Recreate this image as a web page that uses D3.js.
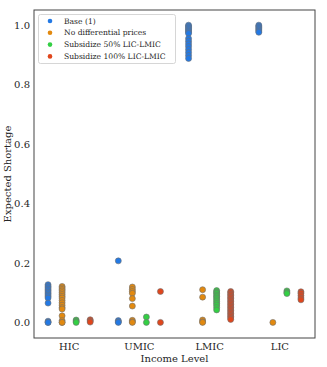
<!DOCTYPE html>
<html>
<head>
<meta charset="utf-8">
<script src="https://cdn.jsdelivr.net/npm/d3@7"></script>
<style>
  body { margin: 0; background: #fff; }
  text { font-family: "DejaVu Serif", serif; fill: #262626; }
</style>
</head>
<body>
<svg id="chart" width="327" height="367"></svg>
<script>
const categories = ["HIC", "UMIC", "LMIC", "LIC"];
const seriesNames = ["Base (1)", "No differential prices", "Subsidize 50% LIC-LMIC", "Subsidize 100% LIC-LMIC"];
const seriesColors = ["#2379e4", "#e2890f", "#33cf44", "#e0461c"];
const yTicks = [0.0, 0.2, 0.4, 0.6, 0.8, 1.0];

// values per category, HIC / UMIC / LMIC / LIC
const baseVals = [
  [0.127, 0.122, 0.117, 0.112, 0.107, 0.102, 0.097, 0.092, 0.087, 0.082, 0.065, 0.004, 0.0, 0.0],
  [0.207, 0.006, 0.002, 0.0],
  [1.0, 0.996, 0.992, 0.988, 0.984, 0.98, 0.976, 0.972, 0.955, 0.946, 0.937, 0.928, 0.918, 0.908, 0.898, 0.888],
  [1.0, 0.996, 0.992, 0.988, 0.984, 0.98, 0.976]
];
const noDiffVals = [
  [0.121, 0.116, 0.111, 0.106, 0.1, 0.094, 0.088, 0.082, 0.074, 0.066, 0.058, 0.05, 0.045, 0.022, 0.006, 0.0, 0.0],
  [0.119, 0.111, 0.104, 0.098, 0.08, 0.055, 0.007, 0.002, 0.0],
  [0.11, 0.085, 0.008, 0.002, 0.0],
  [0.0]
];
const sub50Vals = [
  [0.008, 0.004, 0.0],
  [0.018, 0.0],
  [0.107, 0.102, 0.098, 0.092, 0.087, 0.082, 0.076, 0.07, 0.064, 0.058, 0.05, 0.042],
  [0.106, 0.101, 0.097]
];
const sub100Vals = [
  [0.009, 0.005, 0.001],
  [0.104, 0.0],
  [0.104, 0.1, 0.095, 0.09, 0.085, 0.08, 0.075, 0.07, 0.065, 0.06, 0.055, 0.05, 0.045, 0.04, 0.035, 0.03, 0.025, 0.02, 0.015, 0.01],
  [0.103, 0.098, 0.09, 0.082, 0.076]
];
const allSeries = [baseVals, noDiffVals, sub50Vals, sub100Vals];

let svg = d3.select("#chart");
const mLeft = 34, mRight = 315, mTop = 10, mBottom = 338;

let x = d3.scaleBand().domain(categories).range([mLeft, mRight]);
let bw = x.bandwidth();
let xHue = d3.scaleBand().domain(seriesNames).range([0.1 * bw, 0.9 * bw]);
let y = d3.scaleLinear().domain([-0.0525, 1.051]).range([mBottom, mTop]);

// points
allSeries.forEach(function(vals, s) {
  let name = seriesNames[s];
  categories.forEach(function(c, ci) {
    let cx = x(c) + xHue(name) + xHue.bandwidth() / 2;
    svg.append("g").selectAll("circle")
      .data(vals[ci])
      .enter().append("circle")
      .attr("cx", cx)
      .attr("cy", d => y(d))
      .attr("r", 3)
      .attr("fill", seriesColors[s])
      .attr("stroke", "#707070")
      .attr("stroke-width", 0.6);
  });
});

// frame
svg.append("rect")
  .attr("x", mLeft).attr("y", mTop)
  .attr("width", mRight - mLeft).attr("height", mBottom - mTop)
  .attr("fill", "none").attr("stroke", "#444").attr("stroke-width", 1);

// y axis
let yAxis = d3.axisLeft(y).tickValues(yTicks).tickFormat(d3.format(".1f")).tickSize(0).tickPadding(4);
let gy = svg.append("g").attr("transform", `translate(${mLeft},0)`).call(yAxis);
gy.select(".domain").remove();
gy.selectAll("text").style("font-size", "10px").attr("fill", "#262626");

// x axis
let xAxis = d3.axisBottom(x).tickSize(0).tickPadding(5);
let gx = svg.append("g").attr("transform", `translate(0,${mBottom})`).call(xAxis);
gx.select(".domain").remove();
gx.selectAll("text").style("font-size", "10px").attr("fill", "#262626");

svg.append("text")
  .attr("x", (mLeft + mRight) / 2).attr("y", 362)
  .attr("text-anchor", "middle")
  .style("font-size", "10px")
  .text("Income Level");

svg.append("text")
  .attr("transform", `translate(10.5,${(mTop + mBottom) / 2}) rotate(-90)`)
  .attr("text-anchor", "middle")
  .style("font-size", "10px")
  .text("Expected Shortage");

// legend
let lg = svg.append("g");
lg.append("rect")
  .attr("x", 38.5).attr("y", 14.5)
  .attr("width", 137).attr("height", 49)
  .attr("rx", 2)
  .attr("fill", "#fff").attr("stroke", "#ccc").attr("stroke-width", 0.8);
seriesNames.forEach(function(n, i) {
  let ly = 21 + i * 11.8;
  lg.append("circle").attr("cx", 50).attr("cy", ly).attr("r", 2.3).attr("fill", seriesColors[i]);
  lg.append("text").attr("x", 64).attr("y", ly).attr("dy", "0.35em")
    .style("font-size", "7.6px").text(n);
});
</script>
</body>
</html>
